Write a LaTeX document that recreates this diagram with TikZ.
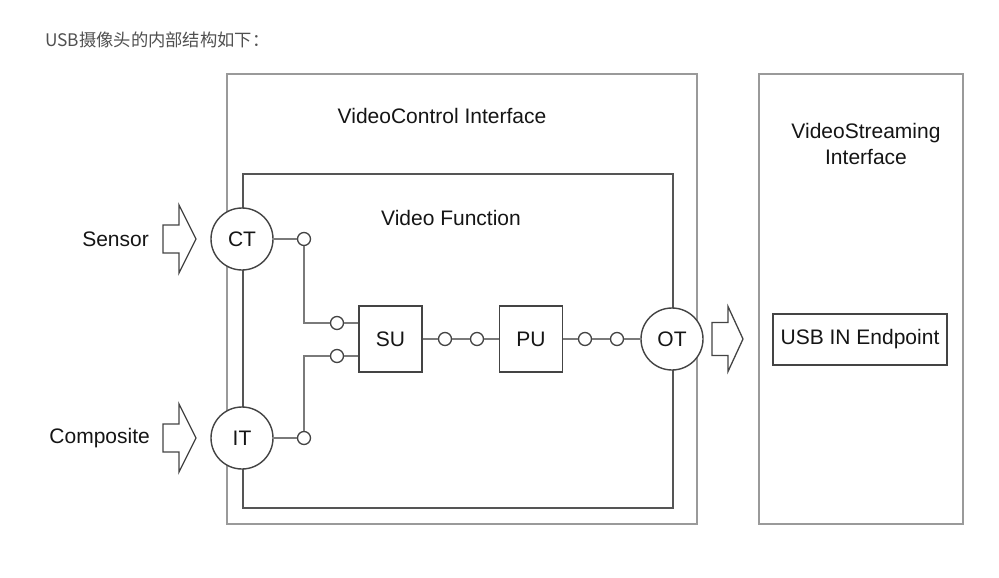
\documentclass[tikz,border=0pt]{standalone}
\usepackage{fontspec}
\setmainfont{Liberation Sans}
\newfontfamily\cjk{Noto Sans CJK SC}
\usetikzlibrary{calc}
\definecolor{txt}{HTML}{151515}
\definecolor{hdrc}{HTML}{505050}
\definecolor{outerc}{HTML}{9A9A9A}
\definecolor{innerc}{HTML}{555555}
\definecolor{circc}{HTML}{444444}
\definecolor{wirec}{HTML}{7A7A7A}
\tikzset{
  lbl/.style={text=txt, font=\fontsize{21}{25}\selectfont, inner sep=0pt},
  outerbox/.style={draw=outerc, line width=1.6pt, anchor=north west, inner sep=0pt},
  innerbox/.style={draw=innerc, line width=2.2pt, anchor=north west, inner sep=0pt},
  unit/.style={circle, draw=circc, line width=1.4pt, fill=white, minimum size=62pt, inner sep=0pt, text=txt, font=\fontsize{21}{25}\selectfont},
  blk/.style={rectangle, draw=circc, line width=1.3pt, fill=white, minimum width=63pt, minimum height=66pt, inner sep=0pt, text=txt, font=\fontsize{21}{25}\selectfont},
  port/.style={circle, draw=circc, line width=1.3pt, fill=white, minimum size=13pt, inner sep=0pt},
  wire/.style={draw=wirec, line width=1.2pt},
  barrow/.style={draw=circc, line width=1.3pt, fill=white, line join=miter},
}
\begin{document}
\begin{tikzpicture}[x=1pt,y=-1pt]
\useasboundingbox[fill=white] (0,0) rectangle (999,578);
% header
\node[anchor=west, text=hdrc, inner sep=0pt, font=\cjk\fontsize{17.3}{21}\selectfont] (hdr) at (45,40) {USB摄像头的内部结构如下：};
% boxes
\node[outerbox, minimum width=470pt, minimum height=450pt] (vc) at (226,73) {};
\node[outerbox, minimum width=204pt, minimum height=450pt] (vs) at (758,73) {};
\node[innerbox, minimum width=430pt, minimum height=334pt] (vf) at (242,173) {};
% titles
\node[lbl] (vctitle) at (442,116) {VideoControl Interface};
\node[lbl] (vftitle) at (451,218) {Video Function};
\node[lbl, align=center] (vstitle) at (866,144) {VideoStreaming\\[1pt]Interface};
% endpoint
\node[blk, minimum width=174pt, minimum height=51pt, line width=1.4pt] (ep) at (860,339.5) {USB IN Endpoint};
% units
\node[unit] (ct) at (242,239) {CT};
\node[unit] (it) at (242,438) {IT};
\node[unit] (ot) at (672,339) {OT};
\node[blk] (su) at (390.5,339) {SU};
\node[blk] (pu) at (531,339) {PU};
% ports
\node[port] (p1) at (304,239) {};
\node[port] (p2) at (337,323) {};
\node[port] (p3) at (337,356) {};
\node[port] (p4) at (304,438) {};
\node[port] (p5) at (445,339) {};
\node[port] (p6) at (477,339) {};
\node[port] (p7) at (585,339) {};
\node[port] (p8) at (617,339) {};
% wires
\draw[wire] (ct) -- (p1);
\draw[wire] (p1) |- (p2);
\draw[wire] (p2) -- (p2 -| su.west);
\draw[wire] (p3) -- (p3 -| su.west);
\draw[wire] (p3) -| (p4);
\draw[wire] (it) -- (p4);
\draw[wire] (su) -- (p5);
\draw[wire] (p5) -- (p6);
\draw[wire] (p6) -- (pu);
\draw[wire] (pu) -- (p7);
\draw[wire] (p7) -- (p8);
\draw[wire] (p8) -- (ot);
% input labels
\node[lbl, anchor=east] (sensor) at (149,239) {Sensor};
\node[lbl, anchor=east] (comp) at (150,438) {Composite};
% block arrows
\coordinate (a1) at (163,239);
\coordinate (a2) at (163,438);
\coordinate (a3) at (712,339);
\foreach \a in {a1,a2}{
  \draw[barrow, shift={(\a)}] (0,-14) -- (16,-14) -- (16,-34) -- (33,0) -- (16,34) -- (16,14) -- (0,14) -- cycle;
}
\draw[barrow, shift={(a3)}] (0,-16.5) -- (16,-16.5) -- (16,-32.5) -- (31,0) -- (16,32.5) -- (16,16.5) -- (0,16.5) -- cycle;
\end{tikzpicture}
\end{document}
